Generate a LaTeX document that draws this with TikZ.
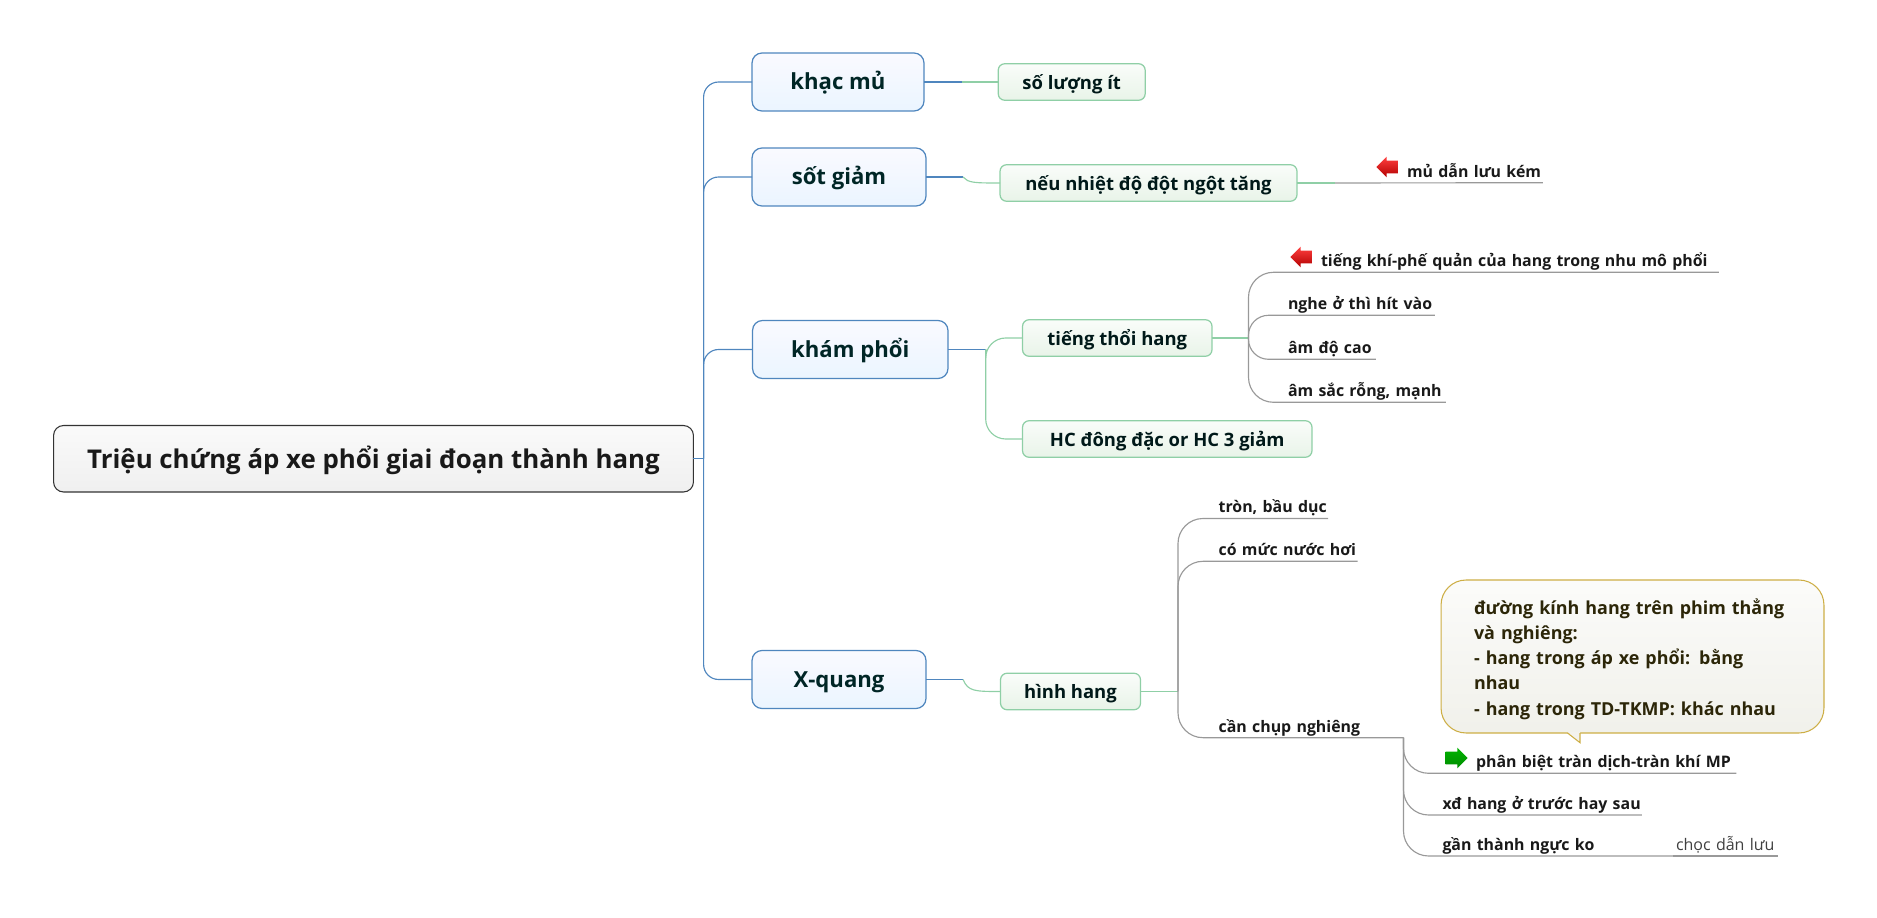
\documentclass[tikz,border=0pt]{standalone}
\usepackage{fontspec}
\usepackage{xcolor}
\setsansfont{Open Sans}
\usetikzlibrary{shapes.arrows, positioning}
\definecolor{mainline}{HTML}{4F86BE}
\definecolor{subline}{HTML}{8FCFA6}
\definecolor{noteline}{HTML}{CDAE45}
\definecolor{notetext}{HTML}{2C2608}

\begin{document}
\begin{tikzpicture}[
    x=0.02cm,
    y=-0.02cm,
    font=\sffamily\bfseries,
    rootbox/.style={
        rectangle,
        draw=black!80,
        top color=black!2,
        bottom color=black!6,
        line width=0.6pt,
        rounded corners=0.2cm,
        outer sep=0pt,
        align=center,
        minimum height=1.33cm,
        text height=14pt,
        text depth=3.1pt,
        text=black!90,
        font=\sffamily\bfseries\fontsize{14.7}{17}\selectfont
    },
    mainbox/.style={
        rectangle,
        draw=mainline,
        top color=blue!2,
        bottom color=blue!50!cyan!8,
        line width=0.7pt,
        rounded corners=0.2cm,
        outer sep=0pt,
        align=center,
        minimum height=1.16cm,
        text height=12pt,
        text depth=2.9pt,
        text=teal!30!black,
        font=\sffamily\bfseries\fontsize{12.6}{14}\selectfont
    },
    subbox/.style={
        rectangle,
        draw=subline,
        top color=green!50!black!2,
        bottom color=green!50!black!9,
        line width=0.7pt,
        rounded corners=0.13cm,
        outer sep=0pt,
        align=center,
        minimum height=0.73cm,
        text height=10.5pt,
        text depth=2.5pt,
        text=teal!20!black,
        font=\sffamily\bfseries\fontsize{10.5}{12}\selectfont
    },
    leaf/.style={
        anchor=south west,
        inner xsep=0pt,
        inner ysep=1pt,
        outer sep=0pt,
        align=left,
        text depth=2.2pt,
        text=black!90,
        font=\sffamily\bfseries\fontsize{9.05}{10}\selectfont
    },
    notebox/.style={
        rectangle,
        draw=noteline,
        top color=yellow!30!black!2,
        bottom color=yellow!30!black!8,
        line width=0.6pt,
        rounded corners=0.5cm,
        outer sep=0pt,
        align=left,
        minimum height=3.06cm,
        text width=6.34cm,
        inner xsep=0.66cm,
        text=notetext,
        font=\sffamily\bfseries\fontsize{10.2}{14.4}\selectfont
    },
    redmark/.style={
        single arrow,
        shape border rotate=180,
        top color=red!75,
        bottom color=red!70!black,
        minimum width=0.4cm,
        minimum height=0.44cm,
        single arrow head extend=0.08cm,
        inner sep=0.12cm
    },
    greenmark/.style={
        single arrow,
        top color=green!70!black,
        bottom color=green!55!black,
        minimum width=0.4cm,
        minimum height=0.44cm,
        single arrow head extend=0.08cm,
        inner sep=0.12cm
    },
    stem/.style={draw=mainline, line width=0.65pt},
    limb/.style={draw=subline, line width=0.65pt},
    twig/.style={draw=black!40, line width=0.65pt}
]
    \useasboundingbox (0,0) rectangle (1877,918);

    % Level 1: Root
    \node [rootbox, minimum width=12.8cm] (trieu) at (373.5,458.75) {Triệu chứng áp xe phổi giai đoạn thành hang};

    % Level 2: Main topics
    \node [mainbox, minimum width=3.44cm] (khac) at (838,82) {khạc mủ};
    \node [mainbox, minimum width=3.48cm] (sot) at (839,177) {sốt giảm};
    \node [mainbox, minimum width=3.91cm] (kham) at (850.25,349.5) {khám phổi};
    \node [mainbox, minimum width=3.48cm] (xquang) at (839,679.5) {X-quang};

    % Level 3: Sub topics
    \node [subbox, minimum width=2.94cm] (soluong) at (1071.7,82) {số lượng ít};
    \node [subbox, minimum width=5.94cm] (nhiet) at (1148.5,183) {nếu nhiệt độ đột ngột tăng};
    \node [subbox, minimum width=3.79cm] (thoi) at (1117.25,338) {tiếng thổi hang};
    \node [subbox, minimum width=5.79cm] (dongdac) at (1167.25,439) {HC đông đặc or HC 3 giảm};
    \node [subbox, minimum width=2.8cm] (hinh) at (1070.5,691.5) {hình hang};

    % Level 4: Underlined leaves
    \node [leaf, text width=2.72cm] (danluu) at (1407,182.7) {mủ dẫn lưu kém};
    \node [leaf, text width=7.96cm] (khi) at (1321,272.3) {tiếng khí-phế quản của hang trong nhu mô phổi};
    \node [leaf, text width=2.94cm] (nghe) at (1288,315.3) {nghe ở thì hít vào};
    \node [leaf, text width=1.76cm] (amdo) at (1288,359.3) {âm độ cao};
    \node [leaf, text width=3.16cm] (amsac) at (1288,402.3) {âm sắc rỗng, mạnh};
    \node [leaf, text width=2.19cm] (tron) at (1218.6,518.5) {\mbox{tròn, bầu dục}};
    \node [leaf, text width=2.78cm] (nuoc) at (1218.6,561.3) {\mbox{có mức nước hơi}};
    \node [leaf, text width=3.7cm] (chup) at (1218.6,737.7) {cần chụp nghiêng};
    \node [leaf, text width=5.21cm] (phanbiet) at (1476,773.3) {\mbox{phân biệt tràn dịch-tràn khí MP}};
    \node [leaf, text width=3.99cm] (xdhang) at (1442.5,815) {\mbox{xđ hang ở trước hay sau}};
    \node [leaf, text width=4.61cm] (gan) at (1442.5,856) {gần thành ngực ko};
    \node [leaf, text width=2.04cm, font=\sffamily\mdseries\fontsize{9.1}{10}\selectfont, text=black!75] (choc) at (1676,856) {chọc dẫn lưu};

    % Marks and note
    \node [redmark] (markA) at (1390.5,167) {};
    \node [redmark] (markB) at (1304.5,257) {};
    \node [greenmark] (markC) at (1453.5,758) {};
    \node [notebox] (note) at (1632.5,656.5) {\rule{0pt}{11.7pt}đường kính hang trên phim thẳng\\ và nghiêng:\\ - hang trong áp xe phổi: bằng\\ nhau\\ - hang trong TD-TKMP: khác nhau};
    \fill [yellow!30!black!8] (1567.5,732) -- (1580,742.7) -- (1580,732) -- cycle;
    \draw [draw=noteline, line width=0.6pt] (1567.5,733) -- (1580,742.7) -- (1580,733);

    % Junctions
    \coordinate (trieuj) at (703.6,458.75);
    \coordinate (khacj) at (962,82);
    \coordinate (sotj) at (963,177);
    \coordinate (khamj) at (985.7,349.5);
    \coordinate (xquangj) at (963,679.5);
    \coordinate (nhietj) at (1335,183);
    \coordinate (thoij) at (1248.5,338);
    \coordinate (hinhj) at (1178,691.5);
    \coordinate (chupj) at (1403.5,737.7);

    % Connections
    \draw [stem] (trieu.east) -- (trieuj);
    \draw [stem, rounded corners=0.3cm] (trieuj) |- (khac.west);
    \draw [stem, rounded corners=0.3cm] (trieuj) |- (sot.west);
    \draw [stem, rounded corners=0.3cm] (trieuj) |- (kham.west);
    \draw [stem, rounded corners=0.3cm] (trieuj) |- (xquang.west);

    \draw [stem] (khac.east) -- (khacj);
    \draw [limb] (khacj) -- (soluong.west);
    \draw [stem] (sot.east) -- (sotj);
    \draw [limb] (sotj) .. controls (968,183) and (975,183) .. (nhiet.west);
    \draw [stem] (kham.east) -- (khamj);
    \draw [limb, rounded corners=0.4cm] (khamj) |- (thoi.west);
    \draw [limb, rounded corners=0.4cm] (khamj) |- (dongdac.west);
    \draw [stem] (xquang.east) -- (xquangj);
    \draw [limb] (xquangj) .. controls (968,691.5) and (975,691.5) .. (hinh.west);

    \draw [limb] (nhiet.east) -- (nhietj);
    \draw [twig] (nhietj) -- (danluu.south east);

    \draw [limb] (thoi.east) -- (thoij);
    \draw [twig, rounded corners=0.5cm] (thoij) |- (khi.south east);
    \draw [twig, rounded corners=0.4cm] (thoij) |- (nghe.south east);
    \draw [twig, rounded corners=0.4cm] (thoij) |- (amdo.south east);
    \draw [twig, rounded corners=0.5cm] (thoij) |- (amsac.south east);

    \draw [limb] (hinh.east) -- (hinhj);
    \draw [twig, rounded corners=0.5cm] (hinhj) |- (tron.south east);
    \draw [twig, rounded corners=0.5cm] (hinhj) |- (nuoc.south east);
    \draw [twig, rounded corners=0.5cm] (hinhj) |- (chup.south east);

    \draw [twig, rounded corners=0.5cm] (chupj) |- (phanbiet.south east);
    \draw [twig, rounded corners=0.5cm] (chupj) |- (xdhang.south east);
    \draw [twig, rounded corners=0.5cm] (chupj) |- (gan.south east);
    \draw [twig] (gan.south east) -- (choc.south east);

\end{tikzpicture}
\end{document}
